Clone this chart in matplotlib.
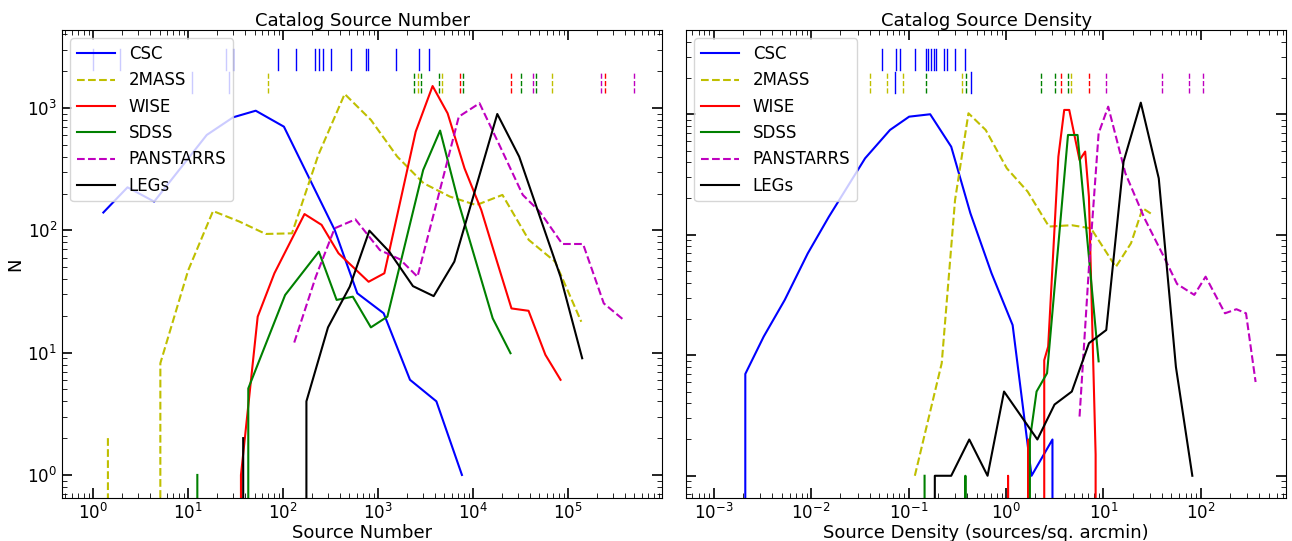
import numpy as np
import matplotlib.pyplot as plt

plt.rcParams['font.size'] = 12

# ---------------- left panel: source number ----------------
csc_num_x = [1.28, 2.3, 4.39, 15.7, 29.8, 51.5, 102, 185, 349, 604, 1145, 2168, 4110, 7640]
csc_num_y = [140, 225, 172, 603, 841, 952, 705, 275, 101, 30.6, 21, 6.0, 4.0, 1.0]

tmass_num_x = [1.43, 2.7, 5.1, 10, 18.3, 34.7, 65.6, 124, 235, 445, 841, 1592, 3013, 5700,
               10800, 20400, 38600, 73100, 138000]
tmass_num_y = [2, 0, 8.2, 47, 144, 118, 93.5, 94.6, 414, 1304, 800, 401, 243, 189,
               161, 195, 83.6, 55.5, 17.9]

wise_num_x = [23.8, 36, 54, 81, 168, 254, 383, 795, 1165, 2489, 3750, 5400, 8130, 12200,
              17700, 25400, 38400, 57800, 83400]
wise_num_y = [0, 1, 19.7, 44.6, 136, 111, 65, 38, 44.6, 641, 1515, 906, 322, 147,
              57, 23, 22, 9.6, 6.0]

sdss_num_x = [12.5, 18, 28, 43, 105, 238, 366, 542, 840, 1253, 2985, 4500, 7080, 16100, 24800]
sdss_num_y = [1, 0, 0, 5.1, 29.6, 67, 27, 28.7, 16.1, 19.7, 312, 655, 166, 19.1, 9.9]

pan_num_x = [131, 221, 349, 577, 1045, 1700, 2600, 4300, 7080, 11700, 19300, 33400, 50500,
             87100, 144000, 238000, 393000]
pan_num_y = [12.1, 41.8, 104, 123, 69, 58, 41.8, 189, 851, 1096, 484, 195, 142,
             77.4, 77.4, 25.3, 18.3]

legs_num_x = [38, 64, 106, 176, 297, 504, 810, 1312, 2330, 3850, 6350, 18000, 30600, 83400, 141000]
legs_num_y = [2, 0, 0, 4, 16.1, 34.7, 99.5, 67, 35, 29, 55.5, 895, 401, 41.8, 9.0]

# rug marks, left panel
rug_num_csc = [1.0, 1.93, 25.1, 29.5, 89, 136, 217, 239, 261, 317, 515, 740, 789, 1543, 2727, 3418]
rug_num_csc2 = [10.9, 27.1]
rug_num_2mass = [69.7, 2630, 4750, 68500]
rug_num_wise = [7280, 25400, 248000]
rug_num_sdss = [2417, 2830, 4430, 7830, 31900, 46500]
rug_num_pan = [43200, 222000, 494000]

# ---------------- right panel: source density ----------------
csc_den_x = [0.0013, 0.00211, 0.00326, 0.00536, 0.00923, 0.0152, 0.0358, 0.0645, 0.1014,
             0.1667, 0.274, 0.431, 0.71, 1.17, 1.83, 3.0, 4.8]
csc_den_y = [0, 7.0, 14.3, 28.8, 70, 141, 431, 741, 955, 1000, 538, 151, 48, 17.8, 1, 2, 0]

tmass_den_x = [0.116, 0.219, 0.3, 0.412, 0.619, 1.02, 1.67, 2.76, 4.74, 7.46, 13.4, 19.2, 25.3, 32.3]
tmass_den_y = [1, 8.6, 194, 1019, 741, 356, 228, 117, 120, 113, 54, 85, 166, 146]

wise_den_x = [0.85, 1.05, 1.25, 1.48, 1.7, 2.0, 2.3, 2.47, 2.71, 3.45, 3.96, 4.46, 5.69, 6.5,
              7.1, 8.32, 9.8]
wise_den_y = [0, 1, 0, 0, 2, 0, 0, 9.1, 11.8, 445, 1086, 1086, 417, 490, 207, 1.5, 0]

sdss_den_x = [0.146, 0.2, 0.3, 0.383, 0.5, 1.2, 1.6, 1.76, 2.06, 2.64, 4.33, 5.43, 8.93]
sdss_den_y = [1, 0, 0, 1, 0, 0, 0, 2, 5.0, 7.1, 673, 673, 8.9]

pan_den_x = [5.69, 7.11, 8.93, 11.2, 16.8, 26.4, 41.6, 57.1, 85.7, 112, 177, 232, 291, 365]
pan_den_y = [3.1, 54, 695, 1156, 324, 137, 66, 39, 31.7, 44.9, 22.3, 24.1, 22.3, 6.0]

legs_den_x = [0.12, 0.186, 0.274, 0.42, 0.647, 0.955, 2.1, 3.15, 4.74, 7.11, 10.7, 16.1, 24.2,
              37, 55.5, 81.8]
legs_den_y = [0, 1, 1, 2, 1, 5.0, 2.0, 3.9, 5.0, 12.6, 16.2, 404, 1248, 294, 8.0, 1]

rug_den_csc = [0.0533, 0.0748, 0.0822, 0.117, 0.152, 0.160, 0.170, 0.181, 0.192, 0.233,
               0.251, 0.301, 0.382]
rug_den_csc2 = [0.0727, 0.435]
rug_den_2mass = [0.040, 0.060, 0.0871, 0.356, 4.68]
rug_den_wise = [3.70, 7.13]
rug_den_sdss = [0.150, 0.391, 2.28, 3.17, 4.36]
rug_den_pan = [10.7, 39.9, 75, 104.6]


def draw_panel(ax, series, rugs, csc2, xticks):
    for (x, y, c, ls, lab) in series:
        ax.plot(x, y, color=c, ls=ls, lw=1.5, label=lab)
    for v in rugs[0]:
        ax.axvline(v, 0.915, 0.96, color='b', lw=1)
    for v in csc2:
        ax.axvline(v, 0.865, 0.91, color='b', lw=1)
    for vals, c in rugs[1:]:
        for v in vals:
            ax.axvline(v, 0.865, 0.91, color=c, ls='--', lw=1)
    ax.set_xscale('log')
    ax.set_yscale('log')
    ax.set_xticks(xticks)
    ax.set_yticks([1, 10, 100, 1000])
    ax.tick_params(which='both', direction='in', top=True, right=True)
    ax.tick_params(which='major', length=7, width=1.2)
    ax.tick_params(which='minor', length=3.5)
    ax.legend(loc='upper left', handlelength=2.3, handletextpad=0.8)


fig = plt.figure(figsize=(12.92, 5.41), dpi=100)
ax1 = fig.add_axes([0.048, 0.0795, 0.4645, 0.865])
ax2 = fig.add_axes([0.531, 0.0795, 0.4645, 0.865])

draw_panel(ax1,
           [(csc_num_x, csc_num_y, 'b', '-', 'CSC'),
            (tmass_num_x, tmass_num_y, 'y', '--', '2MASS'),
            (wise_num_x, wise_num_y, 'r', '-', 'WISE'),
            (sdss_num_x, sdss_num_y, 'g', '-', 'SDSS'),
            (pan_num_x, pan_num_y, 'm', '--', 'PANSTARRS'),
            (legs_num_x, legs_num_y, 'k', '-', 'LEGs')],
           [rug_num_csc, (rug_num_2mass, 'y'), (rug_num_wise, 'r'),
            (rug_num_sdss, 'g'), (rug_num_pan, 'm')],
           rug_num_csc2, [1, 10, 1e2, 1e3, 1e4, 1e5])
ax1.set_xlim(0.47, 9.8e5)
ax1.set_ylim(0.648, 4350)
ax1.set_title('Catalog Source Number', fontsize=13, pad=3)
ax1.set_xlabel('Source Number', fontsize=13, labelpad=1)
ax1.set_ylabel('N', fontsize=13, labelpad=2)

draw_panel(ax2,
           [(csc_den_x, csc_den_y, 'b', '-', 'CSC'),
            (tmass_den_x, tmass_den_y, 'y', '--', '2MASS'),
            (wise_den_x, wise_den_y, 'r', '-', 'WISE'),
            (sdss_den_x, sdss_den_y, 'g', '-', 'SDSS'),
            (pan_den_x, pan_den_y, 'm', '--', 'PANSTARRS'),
            (legs_den_x, legs_den_y, 'k', '-', 'LEGs')],
           [rug_den_csc, (rug_den_2mass, 'y'), (rug_den_wise, 'r'),
            (rug_den_sdss, 'g'), (rug_den_pan, 'm')],
           rug_den_csc2, [1e-3, 1e-2, 1e-1, 1, 10, 1e2])
ax2.set_xlim(5.2e-4, 752)
ax2.set_ylim(0.654, 5000)
ax2.tick_params(labelleft=False)
ax2.set_title('Catalog Source Density', fontsize=13, pad=3)
ax2.set_xlabel('Source Density (sources/sq. arcmin)', fontsize=13, labelpad=1)

fig.savefig('out.png', dpi=100)
